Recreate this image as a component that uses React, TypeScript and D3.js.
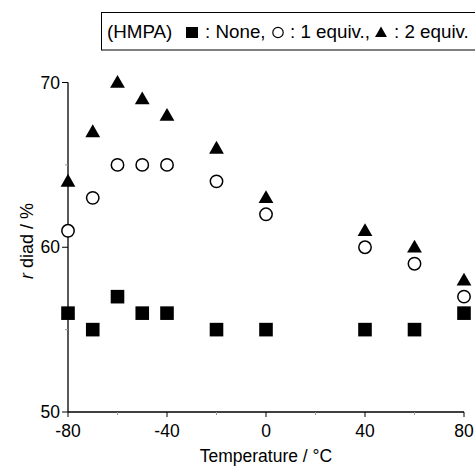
import React from 'react';
import * as d3 from 'd3';

// temperatures (°C)
const temps = [-80, -70, -60, -50, -40, -20, 0, 40, 60, 80];
// r diad (%) for each HMPA amount
const noneVals = [56, 55, 57, 56, 56, 55, 55, 55, 55, 56];
const oneEquiv = [61, 63, 65, 65, 65, 64, 62, 60, 59, 57];
const twoEquiv = [64, 67, 70, 69, 68, 66, 63, 61, 60, 58];

const xTicks = [-80, -40, 0, 40, 80];
const xMinor = [-60, -20, 20, 60];
const yTicks = [50, 60, 70];
const yMinor = [55, 65];

const W = 475;
const H = 467;
const font = 'Liberation Sans, Arial, Helvetica, sans-serif';

export default function App() {
  const x = d3.scaleLinear().domain([-80, 80]).range([68, 464]);
  const y = d3.scaleLinear().domain([50, 70]).range([412, 82.5]);

  const square = d3.symbol().type(d3.symbolSquare).size(185)();
  const triangle = d3.symbol().type(d3.symbolTriangle).size(95)();
  const smallTri = d3.symbol().type(d3.symbolTriangle).size(62)();

  return (
    <svg width={W} height={H} style={{ position: 'absolute', left: 0, top: 0, background: '#fff' }}>
      {/* legend box */}
      <rect x={101.5} y={12.5} width={400} height={37.5} fill="none" stroke="#000" strokeWidth={1} />
      <g fontFamily={font} fontSize={18.8} fill="#000">
        <text x={107} y={38}>(HMPA)</text>
        <rect x={186} y={27} width={12} height={11} fill="#000" />
        <text x={205} y={38}>: None,</text>
        <circle cx={278} cy={32.5} r={5.2} fill="none" stroke="#000" strokeWidth={1.2} />
        <text x={290} y={38}>: 1 equiv.,</text>
        <path d={smallTri} transform="translate(381,33.5)" fill="#000" />
        <text x={394} y={38}>: 2 equiv.</text>
      </g>

      {/* axes */}
      <line x1={x(-80)} x2={x(80)} y1={y(50)} y2={y(50)} stroke="#000" strokeWidth={1.3} />
      <line x1={x(-80)} x2={x(-80)} y1={y(50)} y2={y(70)} stroke="#000" strokeWidth={1.3} />

      {xTicks.map(t => (
        <g key={'xt' + t}>
          <line x1={x(t)} x2={x(t)} y1={y(50)} y2={y(50) + 5} stroke="#000" strokeWidth={1} />
          <text x={x(t)} y={y(50) + 25} textAnchor="middle" fontFamily={font} fontSize={17.5}>{t}</text>
        </g>
      ))}
      {xMinor.map(t => (
        <line key={'xm' + t} x1={x(t)} x2={x(t)} y1={y(50)} y2={y(50) + 3} stroke="#999" strokeWidth={1} />
      ))}
      {yTicks.map(t => (
        <g key={'yt' + t}>
          <line x1={x(-80) - 6} x2={x(-80)} y1={y(t)} y2={y(t)} stroke="#000" strokeWidth={1} />
          <text x={x(-80) - 8} y={y(t)} dy="0.35em" textAnchor="end" fontFamily={font} fontSize={17.5}>{t}</text>
        </g>
      ))}
      {yMinor.map(t => (
        <line key={'ym' + t} x1={x(-80) - 3} x2={x(-80)} y1={y(t)} y2={y(t)} stroke="#999" strokeWidth={1} />
      ))}

      {/* axis titles */}
      <text x={266} y={462} textAnchor="middle" fontFamily={font} fontSize={17.5}>Temperature / °C</text>
      <text transform="translate(33, 241) rotate(-90)" textAnchor="middle" fontFamily={font} fontSize={18}>
        <tspan fontStyle="italic">r</tspan> diad / %
      </text>

      {/* data */}
      {temps.map((t, i) => (
        <path key={'s' + t} d={square} transform={`translate(${x(t)},${y(noneVals[i])})`} fill="#000" />
      ))}
      {temps.map((t, i) => (
        <circle key={'c' + t} cx={x(t)} cy={y(oneEquiv[i])} r={6.2} fill="#fff" stroke="#000" strokeWidth={1.5} />
      ))}
      {temps.map((t, i) => (
        <path key={'t' + t} d={triangle} transform={`translate(${x(t)},${y(twoEquiv[i]) + 1})`} fill="#000" />
      ))}
    </svg>
  );
}
